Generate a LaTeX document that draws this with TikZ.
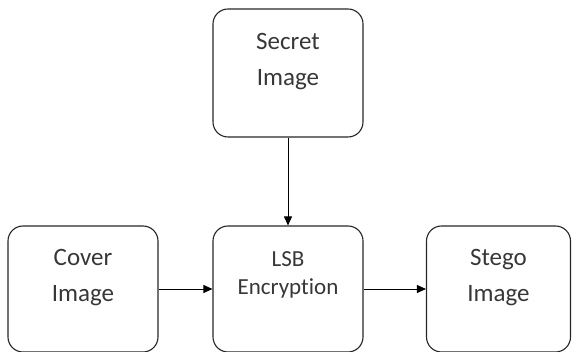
\documentclass[tikz,border=0pt]{standalone}
\usepackage{fontspec}
\setmainfont{Carlito}[Ligatures=NoCommon]
\usepackage{tikz}
\usetikzlibrary{arrows.meta,positioning}

\definecolor{txtgray}{RGB}{55,55,55}

\tikzset{
  imgbox/.style={draw=black!85,line width=1.1pt,rounded corners=15pt,
    minimum width=150pt,minimum height=126pt,inner sep=0pt},
  boxtext/.style={font=\fontsize{25}{36}\selectfont,text=txtgray,align=center},
  flow/.style={line width=0.8pt,-{Triangle[length=9pt,width=8pt]}}
}

\begin{document}
\begin{tikzpicture}[x=1pt,y=-1pt]
  \useasboundingbox (0,0) rectangle (573,352);
  % the four boxes
  \node[imgbox,minimum height=128pt] (secret) at (288,73) {};
  \node[imgbox] (cover) at (83,289) {};
  \node[imgbox] (lsb) at (288,289) {};
  \node[imgbox,minimum width=144pt] (stego) at (498.5,289) {};
  % their texts, set high in each box
  \node[boxtext,below=21pt of secret.north] (secret-txt) {Secret\\Image};
  \node[boxtext,below=20pt of cover.north] (cover-txt) {Cover\\Image};
  \node[boxtext,below=20pt of stego.north] (stego-txt) {Stego\\Image};
  \node[boxtext,font=\fontsize{23}{28}\selectfont,below=23pt of lsb.north]
    (lsb-txt) {LSB\\Encryption};
  % connectors
  \draw[flow] (secret) -- (lsb);
  \draw[flow] (cover) -- (lsb);
  \draw[flow] (lsb) -- (stego);
\end{tikzpicture}
\end{document}
